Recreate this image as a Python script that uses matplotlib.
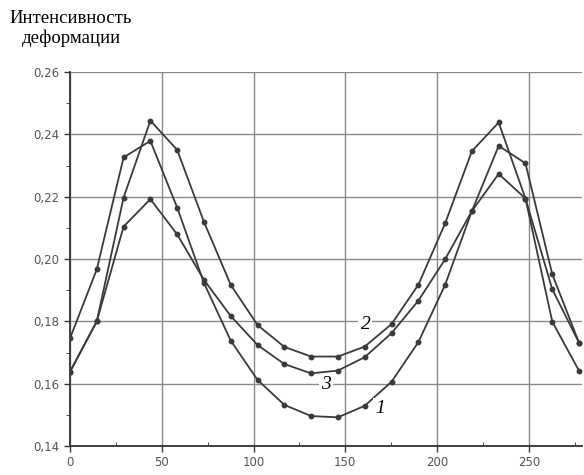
import matplotlib.pyplot as plt
from matplotlib.ticker import MultipleLocator, FuncFormatter

# x positions of the measured points
x = [0, 14.6, 29.2, 43.8, 58.4, 73.0, 87.6, 102.2, 116.8, 131.4,
     146.0, 160.6, 175.2, 189.8, 204.4, 219.0, 233.6, 248.2, 262.8, 277.4]

curve_1 = [0.1745, 0.1967, 0.2326, 0.2379, 0.2165, 0.1923, 0.1738, 0.1612, 0.1532, 0.1496,
           0.1492, 0.1529, 0.1606, 0.1733, 0.1917, 0.2154, 0.2363, 0.2307, 0.1951, 0.1731]
curve_2 = [0.1638, 0.1800, 0.2197, 0.2444, 0.2350, 0.2119, 0.1917, 0.1788, 0.1718, 0.1687,
           0.1687, 0.1719, 0.1791, 0.1917, 0.2114, 0.2346, 0.2438, 0.2194, 0.1799, 0.1641]
curve_3 = [0.1638, 0.1800, 0.2104, 0.2192, 0.2079, 0.1933, 0.1817, 0.1724, 0.1663, 0.1633,
           0.1642, 0.1685, 0.1762, 0.1866, 0.1999, 0.2154, 0.2273, 0.2194, 0.1903, 0.1731]

labels = ["1", "2", "3"]
label_pos = [(169, 0.1520), (161, 0.1791), (139.5, 0.1596)]

line_color = "#3a3a3a"

fig = plt.figure(figsize=(5.84, 4.75), dpi=100)
ax = fig.add_axes([70 / 584, 29 / 475, 512 / 584, 374 / 475])

for ys in (curve_1, curve_2, curve_3):
    ax.plot(x, ys, color=line_color, lw=1.3, marker="o", ms=3.2, zorder=3)

for lab, (lx, ly) in zip(labels, label_pos):
    ax.text(lx, ly, lab, family="Liberation Serif", style="italic", fontsize=14,
            ha="center", va="center", zorder=4,
            bbox=dict(facecolor="white", edgecolor="none", pad=1.5))

ax.set_xlim(0, 279)
ax.set_ylim(0.14, 0.26)
ax.xaxis.set_major_locator(MultipleLocator(50))
ax.xaxis.set_minor_locator(MultipleLocator(25))
ax.yaxis.set_major_locator(MultipleLocator(0.02))
ax.yaxis.set_minor_locator(MultipleLocator(0.01))
ax.yaxis.set_major_formatter(FuncFormatter(lambda v, p: f"{v:.2f}".replace(".", ",")))

ax.grid(True, which="major", color="#8a8a8a", lw=1.0)
ax.set_axisbelow(True)
for side in ("top", "right"):
    ax.spines[side].set_visible(False)
for side in ("left", "bottom"):
    ax.spines[side].set_color("#333333")
    ax.spines[side].set_linewidth(1.3)

ax.tick_params(which="major", direction="out", length=4, width=1, colors="#333333",
               labelsize=8.5, labelcolor="#555555")
ax.tick_params(axis="x", which="minor", direction="in", length=3, colors="#333333")
ax.tick_params(axis="y", which="minor", direction="out", length=3, colors="#333333")

fig.text(71 / 584, 465 / 475, "Интенсивность\nдеформации", family="Liberation Serif",
         fontsize=13.5, ha="center", va="top", multialignment="center",
         linespacing=1.15)

fig.savefig("out.png", dpi=100)
